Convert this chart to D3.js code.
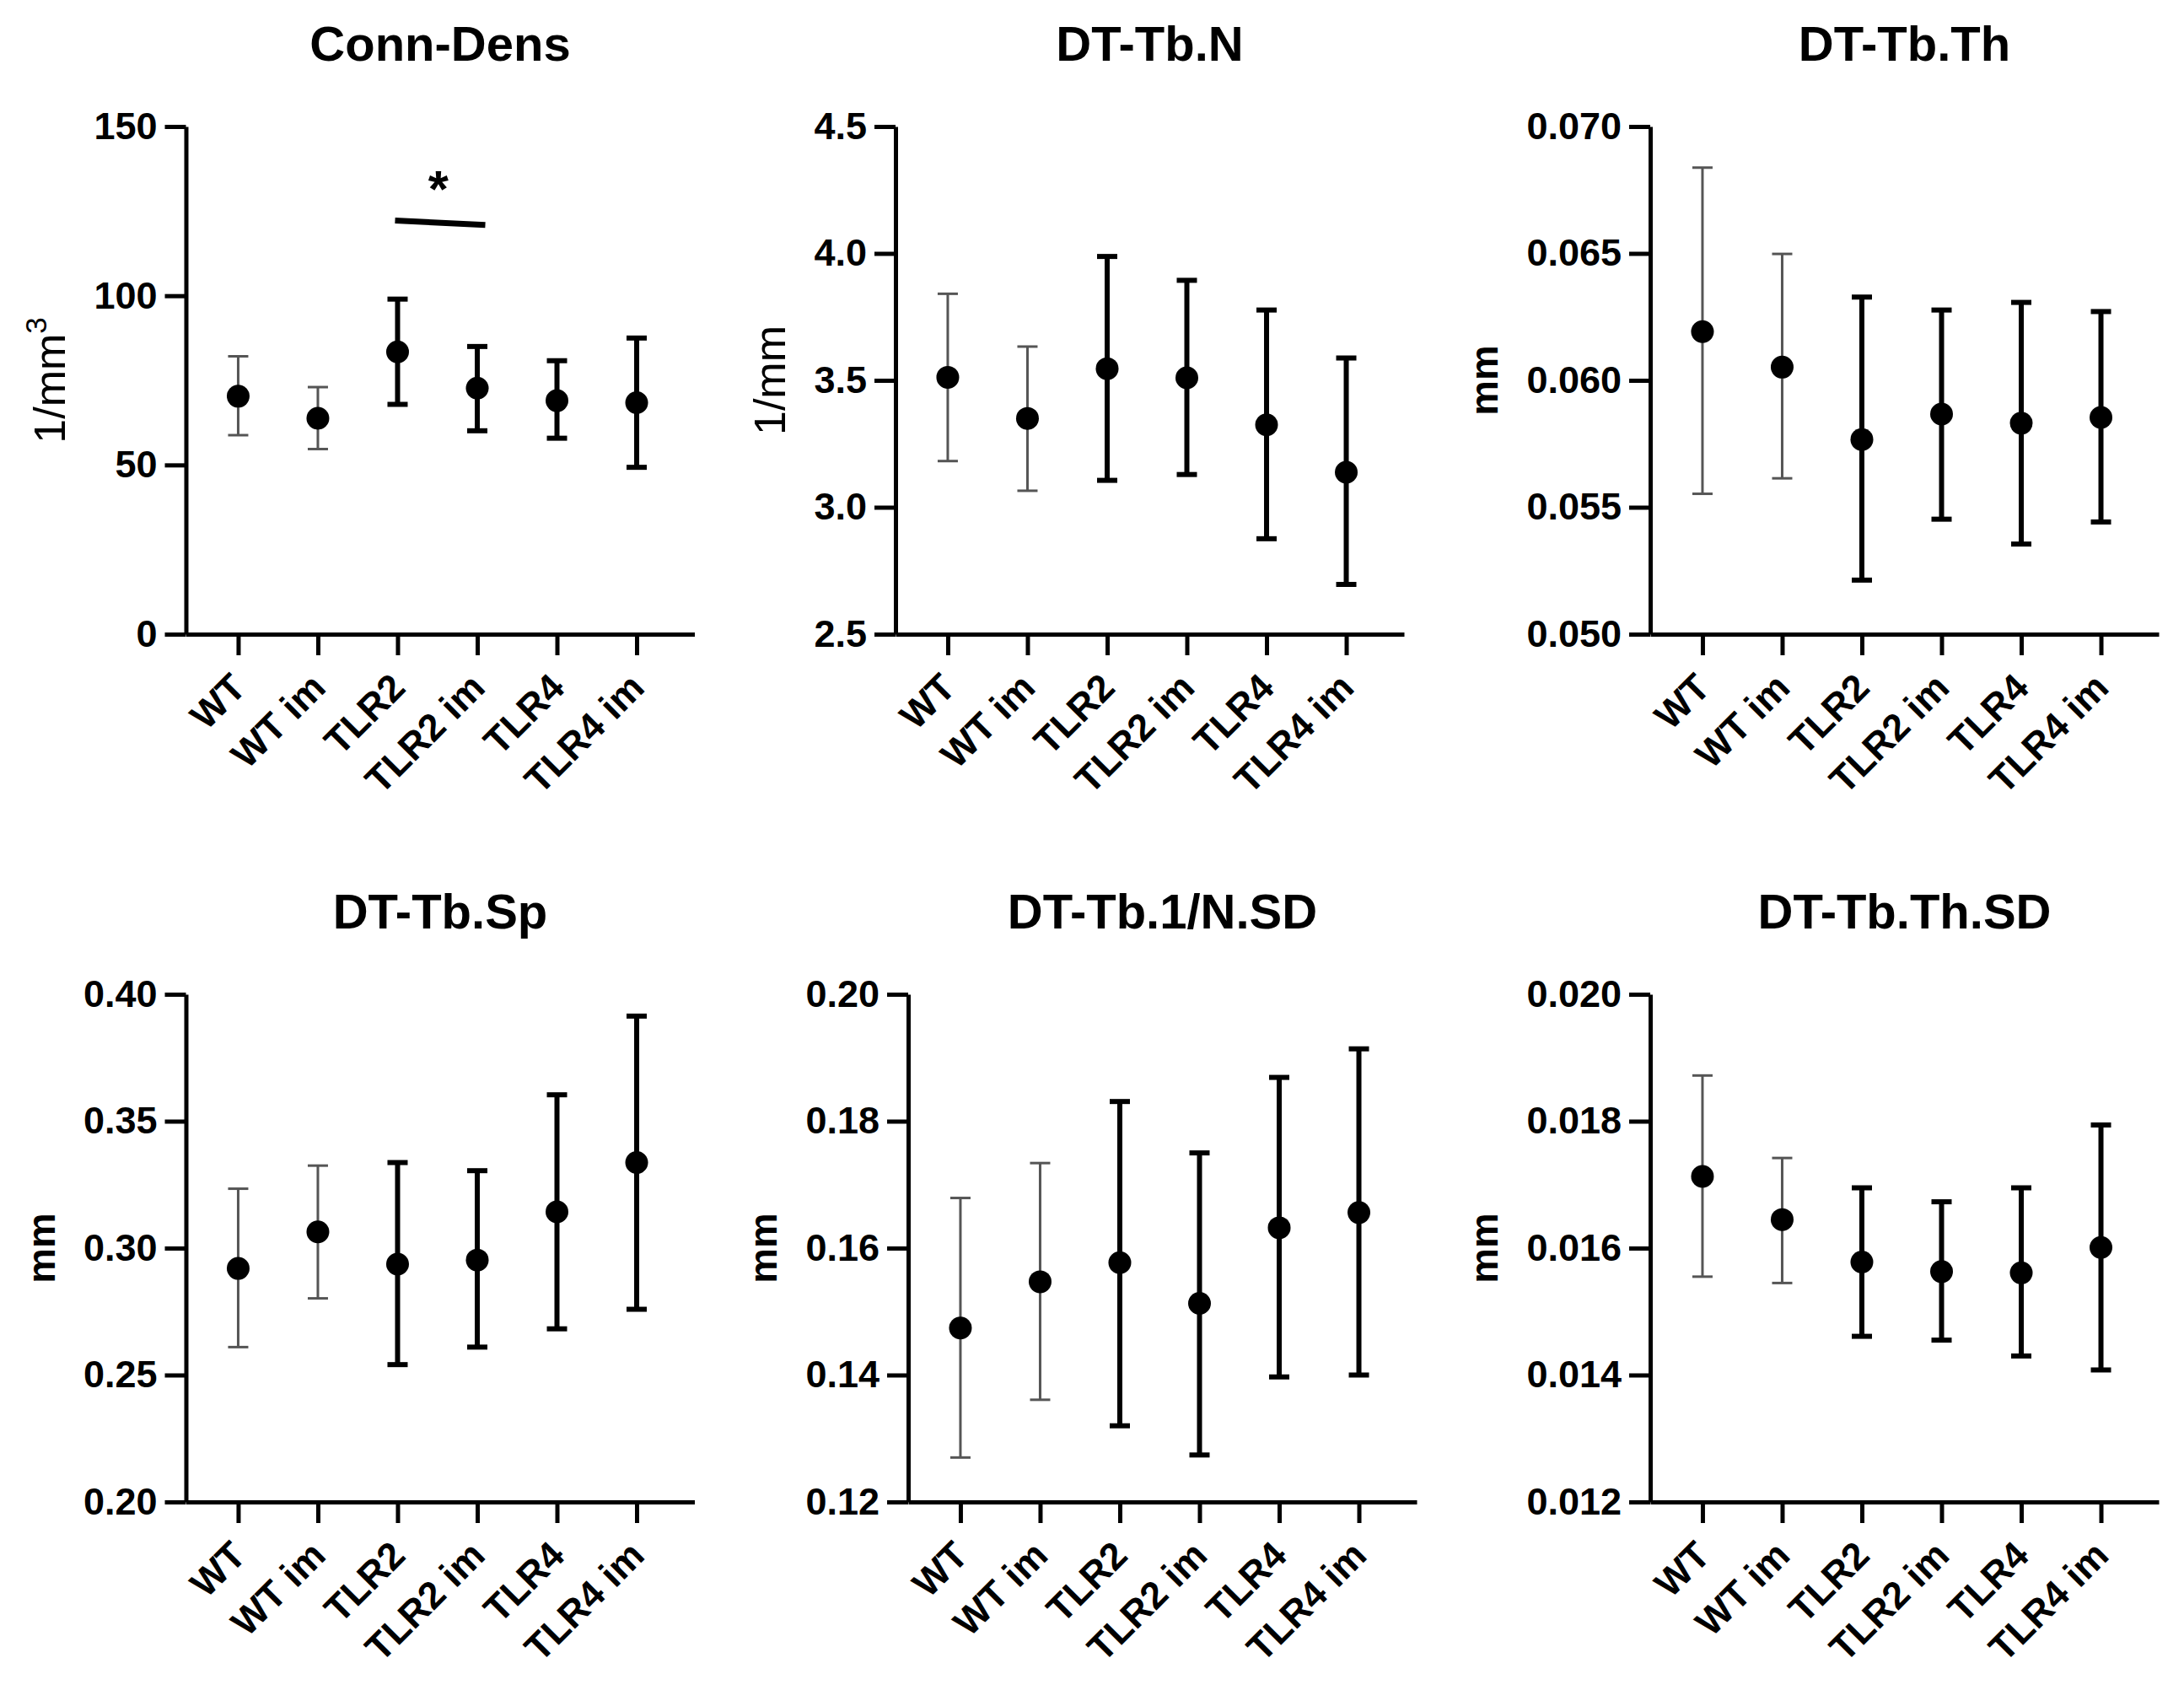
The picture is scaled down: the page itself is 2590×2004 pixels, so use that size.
<!DOCTYPE html>
<html>
<head>
<meta charset="utf-8">
<script src="https://cdn.jsdelivr.net/npm/d3@7"></script>
<style>
  html, body { margin: 0; padding: 0; background: #fff; }
  svg { display: block; }
  text { font-family: "Liberation Sans", Arial, Helvetica, sans-serif; fill: #000; }
</style>
</head>
<body>
<svg id="chart" width="2590" height="2004"></svg>
<script>
// ---------------- DATA ----------------
const categories = ["WT", "WT im", "TLR2", "TLR2 im", "TLR4", "TLR4 im"];
const thinCategories = ["WT", "WT im"];

const panelTitles = ["Conn-Dens", "DT-Tb.N", "DT-Tb.Th", "DT-Tb.Sp", "DT-Tb.1/N.SD", "DT-Tb.Th.SD"];
const yLabels = ["1/mm", "1/mm", "mm", "mm", "mm", "mm"];
const yLabelSups = ["3", "", "", "", "", ""];

const yDomains = [[0, 150], [2.5, 4.5], [0.050, 0.070], [0.20, 0.40], [0.12, 0.20], [0.012, 0.020]];
const yTicks = [
  [0, 50, 100, 150],
  [2.5, 3.0, 3.5, 4.0, 4.5],
  [0.050, 0.055, 0.060, 0.065, 0.070],
  [0.20, 0.25, 0.30, 0.35, 0.40],
  [0.12, 0.14, 0.16, 0.18, 0.20],
  [0.012, 0.014, 0.016, 0.018, 0.020]
];
const yTickLabels = [
  ["0", "50", "100", "150"],
  ["2.5", "3.0", "3.5", "4.0", "4.5"],
  ["0.050", "0.055", "0.060", "0.065", "0.070"],
  ["0.20", "0.25", "0.30", "0.35", "0.40"],
  ["0.12", "0.14", "0.16", "0.18", "0.20"],
  ["0.012", "0.014", "0.016", "0.018", "0.020"]
];

// Conn-Dens
const connDensMean  = [70.3, 63.8, 83.4, 72.7, 69.0, 68.4];
const connDensUpper = [82.1, 73.0, 99.0, 85.0, 80.8, 87.5];
const connDensLower = [58.8, 54.7, 67.9, 60.1, 57.9, 49.3];
// DT-Tb.N
const tbNMean  = [3.512, 3.350, 3.546, 3.510, 3.325, 3.138];
const tbNUpper = [3.841, 3.633, 3.988, 3.894, 3.777, 3.588];
const tbNLower = [3.182, 3.065, 3.106, 3.129, 2.876, 2.696];
// DT-Tb.Th
const tbThMean  = [0.06192, 0.06052, 0.05767, 0.05867, 0.05831, 0.05854];
const tbThUpper = [0.06838, 0.06498, 0.06328, 0.06277, 0.06307, 0.06271];
const tbThLower = [0.05553, 0.05614, 0.05213, 0.05453, 0.05355, 0.05442];
// DT-Tb.Sp
const tbSpMean  = [0.2920, 0.3064, 0.2937, 0.2953, 0.3143, 0.3337];
const tbSpUpper = [0.3234, 0.3325, 0.3337, 0.3305, 0.3604, 0.3914];
const tbSpLower = [0.2610, 0.2802, 0.2541, 0.2610, 0.2682, 0.2759];
// DT-Tb.1/N.SD
const tbNSDMean  = [0.1474, 0.1547, 0.1577, 0.1513, 0.1632, 0.1656];
const tbNSDUpper = [0.1679, 0.1734, 0.1831, 0.1750, 0.1869, 0.1914];
const tbNSDLower = [0.1270, 0.1361, 0.1320, 0.1274, 0.1397, 0.1400];
// DT-Tb.Th.SD
const tbThSDMean  = [0.01713, 0.01645, 0.01578, 0.01563, 0.01561, 0.01601];
const tbThSDUpper = [0.01872, 0.01742, 0.01695, 0.01673, 0.01695, 0.01794];
const tbThSDLower = [0.01555, 0.01545, 0.01461, 0.01455, 0.01430, 0.01408];

const panelMeans  = [connDensMean, tbNMean, tbThMean, tbSpMean, tbNSDMean, tbThSDMean];
const panelUppers = [connDensUpper, tbNUpper, tbThUpper, tbSpUpper, tbNSDUpper, tbThSDUpper];
const panelLowers = [connDensLower, tbNLower, tbThLower, tbSpLower, tbNSDLower, tbThSDLower];

// significance annotation (panel 0)
const sigPair = ["TLR2", "TLR2 im"];
const sigLineLevels = [122.2, 120.9];
const sigStarLevel = 135;
const sigLabel = "*";

// ---------------- LAYOUT / STYLE ----------------
const panelOrigins = [[220.5, 150], [1062, 150], [1957, 150], [220.5, 1179], [1077, 1179], [1957, 1179]];
const plotW = 603, plotH = 602;
const yLabelWeights = ["normal", "normal", "bold", "bold", "bold", "bold"];
const yLabelSizes = [52, 52, 47, 47, 47, 47];

const svg = d3.select("#chart");
svg.append("rect").attr("width", 2590).attr("height", 2004).attr("fill", "#fff");

panelTitles.forEach((title, p) => {
  const [ox, oy] = panelOrigins[p];
  const g = svg.append("g").attr("transform", `translate(${ox},${oy})`);

  const x = d3.scalePoint().domain(categories).range([0, plotW]).padding(0.69).align(0.475);
  const y = d3.scaleLinear().domain(yDomains[p]).range([plotH, 0]);

  // title
  g.append("text")
    .attr("x", plotW / 2).attr("y", -78)
    .attr("text-anchor", "middle")
    .attr("font-size", 58).attr("font-weight", "bold")
    .text(title);

  // y axis
  const yAxis = d3.axisLeft(y)
    .tickValues(yTicks[p])
    .tickFormat((d, i) => yTickLabels[p][i])
    .tickSize(25).tickSizeOuter(0).tickPadding(9);
  const yg = g.append("g").call(yAxis);
  yg.select(".domain").attr("stroke", "#000").attr("stroke-width", 5);
  yg.selectAll(".tick line").attr("stroke", "#000").attr("stroke-width", 5);
  yg.selectAll(".tick text")
    .attr("font-size", 45).attr("font-weight", "bold")
    .attr("font-family", '"Liberation Sans", Arial, sans-serif')
    .attr("fill", "#000");

  // x axis
  const xAxis = d3.axisBottom(x).tickSize(25).tickSizeOuter(0).tickFormat("");
  const xg = g.append("g").attr("transform", `translate(0,${plotH})`).call(xAxis);
  xg.select(".domain").attr("stroke", "#000").attr("stroke-width", 5);
  xg.selectAll(".tick line").attr("stroke", "#000").attr("stroke-width", 5);
  xg.selectAll(".tick").append("text")
    .attr("transform", "translate(11,66) rotate(-45)")
    .attr("text-anchor", "end")
    .attr("font-size", 45).attr("font-weight", "bold")
    .attr("font-family", '"Liberation Sans", Arial, sans-serif')
    .attr("fill", "#000")
    .text(d => d);

  // y label placed left of tick labels
  let minX = 0;
  yg.selectAll(".tick text").each(function () {
    minX = Math.min(minX, this.getBBox().x);
  });
  const lblX = minX - 34;
  const lbl = g.append("text")
    .attr("transform", `translate(${lblX},${plotH / 2}) rotate(-90)`)
    .attr("text-anchor", "middle")
    .attr("font-size", yLabelSizes[p]).attr("font-weight", yLabelWeights[p]);
  lbl.append("tspan").text(yLabels[p]);
  if (yLabelSups[p]) {
    lbl.append("tspan").attr("dy", -22).attr("font-size", 35).text(yLabelSups[p]);
  }

  // error bars
  const rows = categories.map((c, i) => ({
    cat: c, mean: panelMeans[p][i], hi: panelUppers[p][i], lo: panelLowers[p][i],
    thin: thinCategories.includes(c)
  }));
  const bars = g.append("g").selectAll("g").data(rows).join("g")
    .attr("stroke", d => d.thin ? "#555" : "#000")
    .attr("stroke-width", d => d.thin ? 3 : 6);
  bars.append("line")
    .attr("x1", d => x(d.cat)).attr("x2", d => x(d.cat))
    .attr("y1", d => y(d.hi)).attr("y2", d => y(d.lo));
  bars.append("line")
    .attr("x1", d => x(d.cat) - 12).attr("x2", d => x(d.cat) + 12)
    .attr("y1", d => y(d.hi)).attr("y2", d => y(d.hi));
  bars.append("line")
    .attr("x1", d => x(d.cat) - 12).attr("x2", d => x(d.cat) + 12)
    .attr("y1", d => y(d.lo)).attr("y2", d => y(d.lo));

  g.append("g").selectAll("circle").data(rows).join("circle")
    .attr("cx", d => x(d.cat)).attr("cy", d => y(d.mean))
    .attr("r", 13.5).attr("fill", "#000");

  if (p === 0) {
    g.append("line")
      .attr("x1", x(sigPair[0]) - 3).attr("x2", x(sigPair[1]) + 9.5)
      .attr("y1", y(sigLineLevels[0])).attr("y2", y(sigLineLevels[1]))
      .attr("stroke", "#000").attr("stroke-width", 7);
    g.append("text")
      .attr("x", (x(sigPair[0]) + x(sigPair[1])) / 2 + 1)
      .attr("y", y(sigStarLevel) + 35)
      .attr("text-anchor", "middle")
      .attr("font-size", 62).attr("font-weight", "bold")
      .text(sigLabel);
  }
});
</script>
</body>
</html>
